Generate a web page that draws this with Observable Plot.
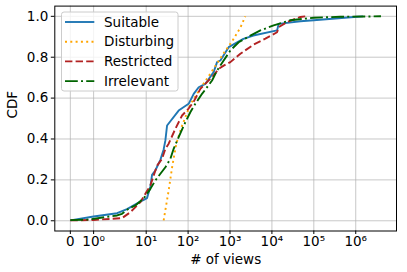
<!DOCTYPE html>
<html><head><meta charset="utf-8">
<script src="https://cdn.jsdelivr.net/npm/d3@7"></script>
<script src="https://cdn.jsdelivr.net/npm/@observablehq/plot@0.6"></script>
<style>body{margin:0;background:#fff} svg{display:block}</style>
</head><body><div id="chart"></div>
<script>
const seriesNames = ["Suitable", "Disturbing", "Restricted", "Irrelevant"];
const seriesColors = ["#1f77b4", "#ffa500", "#b22222", "#006400"];
const seriesDash = [null, "2,3.3", "7.4,3.2", "12.8,3.2,2,3.2"];

const suitableViews = [0, 1.0, 2.02, 3.49, 7.25, 10.5, 12.6, 13.8, 16.5, 21.8, 26.1, 28.7, 31.5, 59.5, 103, 136, 179, 258, 407, 491, 589, 929, 2084, 3610, 13280, 14500, 47800, 99200, 1.08e6, 1.5e6];
const suitableCdf = [0.002, 0.021, 0.037, 0.057, 0.094, 0.111, 0.168, 0.225, 0.246, 0.298, 0.349, 0.393, 0.466, 0.539, 0.572, 0.621, 0.653, 0.67, 0.727, 0.776, 0.784, 0.849, 0.89, 0.906, 0.931, 0.963, 0.976, 0.981, 0.998, 1.0];

const disturbingViews = [26.1, 33.8, 42.1, 52.5, 69, 113, 196, 340, 694, 1139, 1768, 2325];
const disturbingCdf = [0.002, 0.139, 0.27, 0.378, 0.456, 0.569, 0.647, 0.72, 0.817, 0.88, 0.945, 1.0];

const restrictedViews = [0, 1.0, 2.65, 4.19, 7.25, 9.55, 12.6, 15.1, 18.2, 23.9, 28.7, 34.4, 49.7, 71.8, 103, 136, 196, 407, 536, 706, 1020, 1767, 3670, 6980, 13280, 14500, 23000, 47800, 62900];
const restrictedCdf = [0.002, 0.004, 0.013, 0.042, 0.091, 0.132, 0.173, 0.222, 0.27, 0.303, 0.352, 0.377, 0.45, 0.515, 0.549, 0.583, 0.645, 0.711, 0.743, 0.759, 0.776, 0.817, 0.862, 0.891, 0.922, 0.947, 0.972, 0.997, 1.0];

const irrelevantViews = [0, 0.79, 1.5, 2.02, 2.65, 3.81, 5.51, 8.69, 12.6, 16.5, 21.8, 28.7, 37.7, 45.2, 59.5, 86, 113, 149, 215, 258, 373, 491, 706, 1020, 1609, 3060, 5305, 11000, 27600, 99200, 430000, 4.0e6];
const irrelevantCdf = [0.003, 0.006, 0.018, 0.026, 0.034, 0.059, 0.075, 0.109, 0.156, 0.197, 0.23, 0.262, 0.303, 0.352, 0.409, 0.482, 0.531, 0.572, 0.621, 0.642, 0.686, 0.735, 0.784, 0.833, 0.873, 0.906, 0.931, 0.956, 0.981, 0.993, 0.998, 1.0];

const xTickValues = [0, 1, 10, 100, 1000, 10000, 100000, 1000000];
const xTickLabels = ["0", "10⁰", "10¹", "10²", "10³", "10⁴", "10⁵", "10⁶"];
const yTickValues = [0, 0.2, 0.4, 0.6, 0.8, 1.0];

// matplotlib-style symlog (linthresh = 2, linscale = 1, base 10)
const LINTHRESH = 2, LINSCALE_ADJ = 1 / (1 - 1 / 10);
function symlog(v) {
  const a = Math.abs(v);
  return a <= LINTHRESH ? v * LINSCALE_ADJ
    : Math.sign(v) * LINTHRESH * (LINSCALE_ADJ + Math.log10(a / LINTHRESH));
}

const seriesData = [
  [suitableViews, suitableCdf],
  [disturbingViews, disturbingCdf],
  [restrictedViews, restrictedCdf],
  [irrelevantViews, irrelevantCdf]
].map(([vs, cs], k) => vs.map((v, i) => ({series: seriesNames[k], views: v, cdf: cs[i]})));

const allViews = seriesData.flat().map(d => symlog(d.views));
const tMin = d3.min(allViews), tMax = d3.max(allViews);
const pad = 0.05 * (tMax - tMin);
const xDomain = [tMin - pad, tMax + pad];

const xTicksT = xTickValues.map(symlog);
const xLabelMap = new Map(xTicksT.map((t, i) => [t, xTickLabels[i]]));

const FS = 13.5;

const lineMarks = seriesData.map((rows, k) =>
  Plot.line(rows, {
    x: d => symlog(d.views), y: "cdf",
    stroke: seriesColors[k], strokeWidth: 1.9,
    strokeDasharray: seriesDash[k] || undefined,
    strokeLinecap: "butt", strokeLinejoin: "round"
  })
);

const chart = Plot.plot({
  width: 407, height: 272,
  marginLeft: 54.3, marginRight: 11, marginTop: 5.6, marginBottom: 41.5,
  style: {fontFamily: "'DejaVu Sans', sans-serif", fontSize: FS + "px", color: "#000", background: "#fff", overflow: "visible"},
  x: {type: "linear", domain: xDomain},
  y: {domain: [-0.05, 1.05]},
  marks: [
    Plot.gridX(xTicksT, {stroke: "#b0b0b0", strokeOpacity: 0.7, strokeWidth: 1}),
    Plot.gridY(yTickValues, {stroke: "#b0b0b0", strokeOpacity: 0.7, strokeWidth: 1}),
    ...lineMarks,
    Plot.frame({stroke: "#000", strokeWidth: 1}),
    Plot.axisX(xTicksT, {tickSize: 3.5, tickPadding: 2, tickFormat: d => xLabelMap.get(d), label: null, fontSize: FS}),
    Plot.axisY(yTickValues, {tickSize: 3.5, tickPadding: 3, tickFormat: d3.format(".1f"), label: null, fontSize: FS}),
    Plot.text(["# of views"], {text: d => d, frameAnchor: "bottom", dy: 33, fontSize: FS}),
    Plot.text(["CDF"], {text: d => d, frameAnchor: "left", dx: -42, rotate: -90, fontSize: FS})
  ]
});
document.getElementById("chart").appendChild(chart);

// legend (upper left, inside the axes)
const svg = d3.select(chart);
const lg = svg.append("g").attr("font-family", "'DejaVu Sans', sans-serif").attr("font-size", FS).attr("text-anchor", "start");
lg.append("rect").attr("x", 61.5).attr("y", 12).attr("width", 116.5).attr("height", 79)
  .attr("rx", 2.5).attr("fill", "#fff").attr("fill-opacity", 0.8).attr("stroke", "#cccccc").attr("stroke-width", 1);
seriesNames.forEach((name, k) => {
  const y = 22 + k * 19.7;
  lg.append("line").attr("x1", 65).attr("x2", 94.3).attr("y1", y).attr("y2", y)
    .attr("stroke", seriesColors[k]).attr("stroke-width", 1.9)
    .attr("stroke-dasharray", seriesDash[k]);
  lg.append("text").attr("x", 104).attr("y", y).attr("dy", "0.35em").attr("text-anchor", "start").attr("fill", "#000").text(name);
});
</script>
</body></html>
